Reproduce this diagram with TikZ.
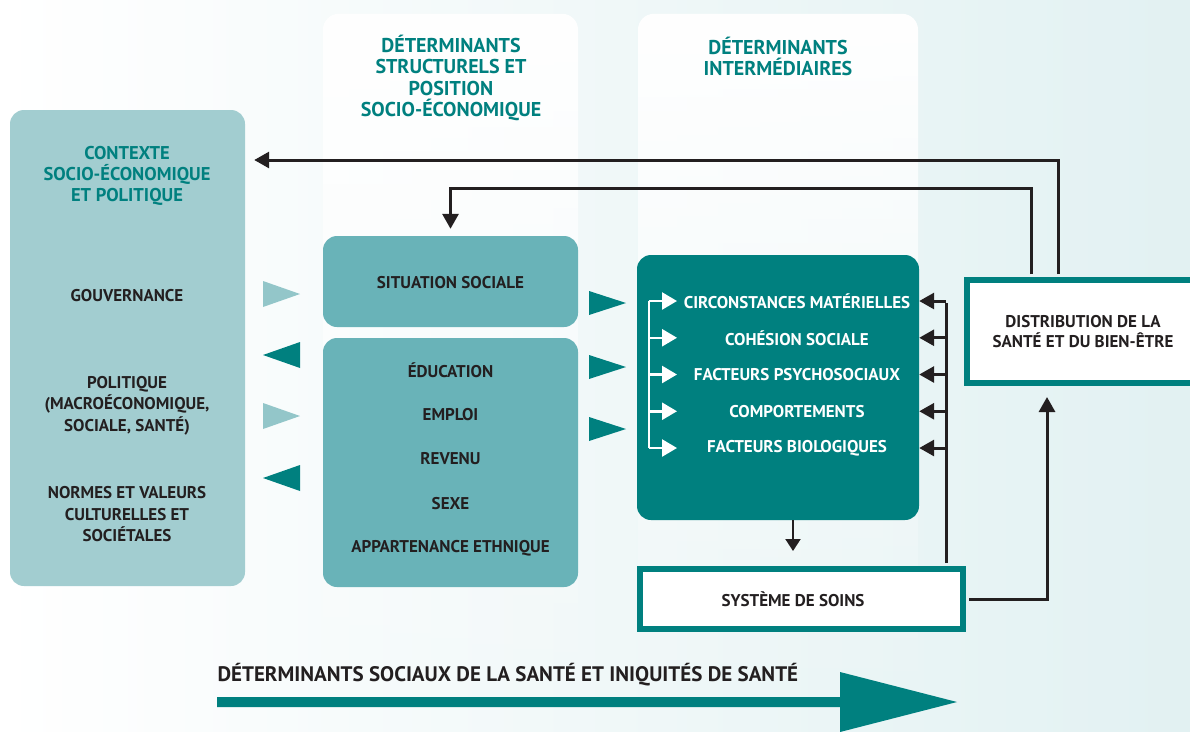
\documentclass[tikz,border=0pt]{standalone}
\usepackage{fontspec}
\setmainfont{PT Sans}
\usetikzlibrary{arrows.meta,positioning,fadings}
\definecolor{sdteal}{HTML}{00807F}
\definecolor{sdmid}{HTML}{69B3B8}
\definecolor{sdpale}{HTML}{A2CDD0}
\definecolor{sdtri}{HTML}{93C6C9}
\definecolor{sdink}{HTML}{231F20}
\definecolor{sdbg}{HTML}{E2F1F2}
\tikzfading[name=colfade, top color=transparent!0, middle color=transparent!0, bottom color=transparent!100]

\begin{document}
\begin{tikzpicture}[x=1pt,y=-1pt]
\tikzset{font=\bfseries\fontsize{17}{21.5}\selectfont}
\tikzset{panel/.style={rounded corners=14pt, inner sep=0pt}}
\tikzset{frame/.style={draw=sdteal, line width=6pt, fill=white, inner sep=0pt, text=sdink}}
\tikzset{ink/.style={text=sdink, align=center}}
\tikzset{head/.style={text=sdteal, align=center, font=\bfseries\fontsize{20}{21.3}\selectfont}}
\tikzset{link/.style={draw=sdink, line width=3pt, -{Triangle[length=15pt,width=16pt]}}}
\tikzset{fork/.style={draw=white, line width=2.5pt, -{Triangle[length=15pt,width=17pt]}}}

\clip (0,0) rectangle (1190,731);
\shade[left color=white, right color=sdbg] (0,0) rectangle (1190,731);

% white columns behind the two groups of determinants
\fill[white, rounded corners=16pt, path fading=colfade] (323,13) rectangle (578,700);
\fill[white, rounded corners=16pt, path fading=colfade] (638,13) rectangle (918,700);
\node[head] (headstruct) at (451,78) {DÉTERMINANTS\\STRUCTURELS ET\\POSITION\\SOCIO-ÉCONOMIQUE};
\node[head] (headinter) at (778,56.5) {DÉTERMINANTS\\INTERMÉDIAIRES};

% context
\node[panel, fill=sdpale, minimum width=235pt, minimum height=476pt] (ctx) at (127.5,348) {};
\node[head, font=\bfseries\fontsize{18.5}{21}\selectfont] (ctxtitle) at (127,176) {CONTEXTE\\SOCIO-ÉCONOMIQUE\\ET POLITIQUE};
\node[ink] (gov) at (127,296) {GOUVERNANCE};
\node[ink] (pol) at (127,405.5) {POLITIQUE\\(MACROÉCONOMIQUE,\\SOCIALE, SANTÉ)};
\node[ink] (norms) at (127,514.5) {NORMES ET VALEURS\\CULTURELLES ET\\SOCIÉTALES};

% structural determinants
\node[panel, fill=sdmid, minimum width=255pt, minimum height=91pt] (sit) at (450.5,281.5) {};
\node[ink] (sittext) at (450.5,283) {SITUATION SOCIALE};
\node[panel, fill=sdmid, minimum width=255pt, minimum height=249pt] (pos) at (450.5,462.5) {};
\foreach \txt [count=\i] in {ÉDUCATION, EMPLOI, REVENU, SEXE, APPARTENANCE ETHNIQUE}
  \node[ink] (pos\i) at (450.5,325.5+44.5*\i) {\txt};

% intermediary determinants
\node[panel, fill=sdteal, minimum width=282pt, minimum height=265pt] (inter) at (778,387.5) {};
\foreach \txt [count=\i] in {CIRCONSTANCES MATÉRIELLES, COHÉSION SOCIALE, FACTEURS PSYCHOSOCIAUX, COMPORTEMENTS, FACTEURS BIOLOGIQUES}
  \node[text=white] (int\i) at (797,264.25+36.75*\i) {\txt};
\coordinate (brktop) at (649,301);
\coordinate (brkbot) at (649,448);
\draw[white, line width=2.5pt] (brktop) -- (brkbot);
\foreach \i in {1,...,5} {
  \coordinate (brk\i) at (brktop |- int\i);
  \coordinate (tip\i) at ([xshift=28pt]brk\i);
  \draw[fork] (brk\i) -- (tip\i);
}

% health system and distribution
\node[frame, minimum width=323pt, minimum height=60pt] (soins) at (801.5,599) {};
\node[ink] (soinstext) at (793,599) {SYSTÈME DE SOINS};
\node[frame, align=center, minimum width=232pt, minimum height=103pt, font=\bfseries\fontsize{17}{20.7}\selectfont] (dist) at (1083,331.5) {DISTRIBUTION DE LA\\SANTÉ ET DU BIEN-ÊTRE};

% triangles between the columns
\foreach \y in {294,416} \fill[sdtri] (263,\y-13) -- (300,\y) -- (263,\y+13) -- cycle;
\foreach \y in {355,478} \fill[sdteal] (300,\y-13) -- (263,\y) -- (300,\y+13) -- cycle;
\foreach \y in {303,367,429} \fill[sdteal] (589,\y-12) -- (626,\y) -- (589,\y+12) -- cycle;

% feedback connectors
\coordinate (fbouter) at (1058,160);
\coordinate (fbinner) at (1031,188);
\coordinate (rail) at (946,301);
\coordinate (upx) at (1047,599);
\draw[link, shorten >=9pt] ([yshift=3pt]dist.north -| fbouter) -- (fbouter) -- (ctx.east |- fbouter);
\draw[link, shorten >=7pt] ([yshift=3pt]dist.north -| fbinner) -- (fbinner) -| (sit.north);
\draw[sdink, line width=3pt] ([yshift=3pt]soins.north -| rail) -- ([yshift=-1.5pt]rail);
\foreach \i in {1,...,5}
  \draw[link] (rail |- int\i) -- (inter.east |- int\i);
\draw[link, shorten >=11pt] ([xshift=3pt]soins.east) -- (upx) -- (upx |- dist.south);
\draw[sdink, line width=2pt, -{Triangle[length=12pt,width=15pt]}, shorten >=15pt] ([xshift=15pt]inter.south) -- ([xshift=15pt]inter.south |- soins.north);

% bottom banner
\node[ink, anchor=west, font=\bfseries\fontsize{21}{23}\selectfont] (caption) at (214,675) {DÉTERMINANTS SOCIAUX DE LA SANTÉ ET INIQUITÉS DE SANTÉ};
\fill[sdteal] (217,697) -- (840,697) -- (840,672) -- (957,702) -- (840,732) -- (840,707) -- (217,707) -- cycle;
\end{tikzpicture}
\end{document}
